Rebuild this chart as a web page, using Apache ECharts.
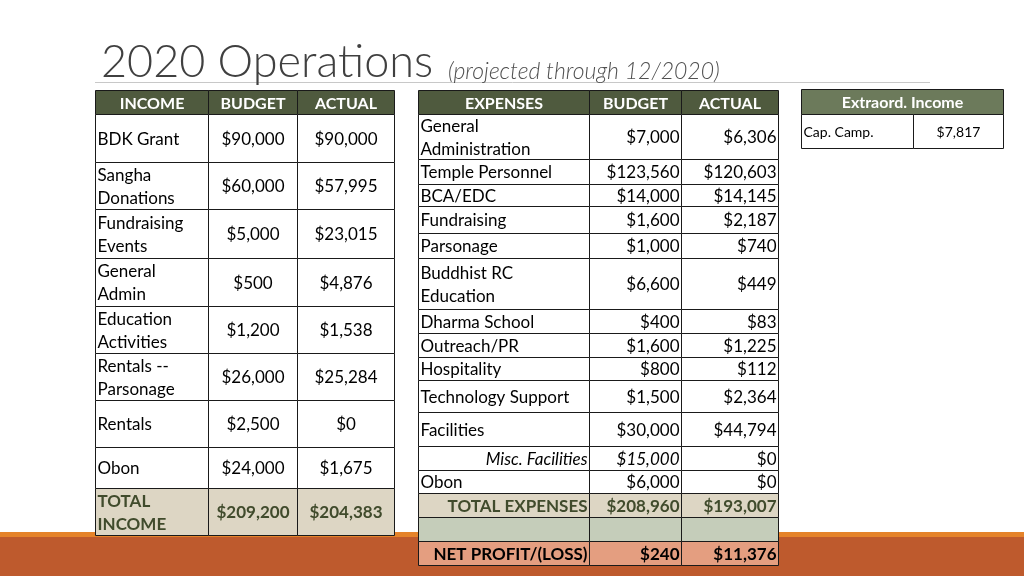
<!DOCTYPE html>
<html>
<head>
<meta charset="utf-8">
<script src="https://cdn.jsdelivr.net/npm/echarts@6/dist/echarts.min.js"></script>
<style>
html,body{margin:0;padding:0;background:#fff;}
#chart{width:1024px;height:576px;}
</style>
</head>
<body>
<div id="chart"></div>
<script>
// ---------- DATA ----------
const titleText = '2020 Operations';
const subtitleText = '(projected through 12/2020)';

const incomeHeaders = ['INCOME', 'BUDGET', 'ACTUAL'];
const incomeCategories = ['BDK Grant', 'Sangha\nDonations', 'Fundraising\nEvents', 'General\nAdmin',
  'Education\nActivities', 'Rentals --\nParsonage', 'Rentals', 'Obon'];
const incomeBudget = [90000, 60000, 5000, 500, 1200, 26000, 2500, 24000];
const incomeActual = [90000, 57995, 23015, 4876, 1538, 25284, 0, 1675];
const incomeTotalLabel = 'TOTAL\nINCOME';
const incomeTotal = [209200, 204383];

const expenseHeaders = ['EXPENSES', 'BUDGET', 'ACTUAL'];
const expenseCategories = ['General\nAdministration', 'Temple Personnel', 'BCA/EDC', 'Fundraising', 'Parsonage',
  'Buddhist RC\nEducation', 'Dharma School', 'Outreach/PR', 'Hospitality', 'Technology Support',
  'Facilities', 'Misc. Facilities', 'Obon'];
const expenseBudget = [7000, 123560, 14000, 1600, 1000, 6600, 400, 1600, 800, 1500, 30000, 15000, 6000];
const expenseActual = [6306, 120603, 14145, 2187, 740, 449, 83, 1225, 112, 2364, 44794, 0, 0];
const expenseTotalLabel = 'TOTAL EXPENSES';
const expenseTotal = [208960, 193007];
const netLabel = 'NET PROFIT/(LOSS)';
const netProfit = [240, 11376];

const extraHeader = 'Extraord. Income';
const extraCategories = ['Cap. Camp.'];
const extraValues = [7817];

// ---------- LAYOUT (positions / styles, not data) ----------
const LAYOUT = {
  income: { cols: [95, 208, 297, 394], rows: [90, 114, 162, 209, 258, 306, 353, 400, 447, 488, 535] },
  expense: { cols: [418, 589, 681, 778], rows: [90, 114, 159, 184, 206, 233, 258, 309, 333, 357, 380, 412, 446, 470, 493, 517, 541, 565] },
  extra: { cols: [801, 913, 1003], rows: [89, 114, 148] }
};
const STYLE = {
  font: 'Lato, "Open Sans", sans-serif',
  header: '#4F5A3E', extraHeader: '#6C7A5B',
  totalFill: '#DDD6C4', spacerFill: '#C5CDBA', netFill: '#E49E80',
  totalText: '#404B2C', border: '#1a1a1a'
};

function money(v) { return '$' + v.toLocaleString('en-US'); }

const cells = [];
function cell(t, c0, c1, r, text, opt) {
  const L = LAYOUT[t];
  cells.push(Object.assign({
    x0: L.cols[c0], x1: L.cols[c1], y0: L.rows[r], y1: L.rows[r + 1],
    text: text, fill: '#fff', color: '#000', bold: false, italic: false, align: 'center', size: 17
  }, opt || {}));
}

// Income table
incomeHeaders.forEach((h, i) => cell('income', i, i + 1, 0, h, { fill: STYLE.header, color: '#fff', bold: true, size: 16 }));
incomeCategories.forEach((c, i) => {
  cell('income', 0, 1, i + 1, c, { align: 'left' });
  cell('income', 1, 2, i + 1, money(incomeBudget[i]));
  cell('income', 2, 3, i + 1, money(incomeActual[i]));
});
{
  const r = incomeCategories.length + 1;
  const o = { fill: STYLE.totalFill, color: STYLE.totalText, bold: true };
  cell('income', 0, 1, r, incomeTotalLabel, Object.assign({ align: 'left' }, o));
  cell('income', 1, 2, r, money(incomeTotal[0]), o);
  cell('income', 2, 3, r, money(incomeTotal[1]), o);
}

// Expense table
expenseHeaders.forEach((h, i) => cell('expense', i, i + 1, 0, h, { fill: STYLE.header, color: '#fff', bold: true, size: 16 }));
expenseCategories.forEach((c, i) => {
  const misc = c.indexOf('Misc.') === 0;
  cell('expense', 0, 1, i + 1, c, { align: misc ? 'right' : 'left', italic: misc });
  cell('expense', 1, 2, i + 1, money(expenseBudget[i]), { align: 'right', italic: misc });
  cell('expense', 2, 3, i + 1, money(expenseActual[i]), { align: 'right' });
});
{
  let r = expenseCategories.length + 1;
  const o = { fill: STYLE.totalFill, color: STYLE.totalText, bold: true, align: 'right' };
  cell('expense', 0, 1, r, expenseTotalLabel, o);
  cell('expense', 1, 2, r, money(expenseTotal[0]), o);
  cell('expense', 2, 3, r, money(expenseTotal[1]), o);
  r++;
  for (let i = 0; i < 3; i++) cell('expense', i, i + 1, r, '', { fill: STYLE.spacerFill });
  r++;
  const n = { fill: STYLE.netFill, color: '#000', bold: true, align: 'right' };
  cell('expense', 0, 1, r, netLabel, n);
  cell('expense', 1, 2, r, money(netProfit[0]), n);
  cell('expense', 2, 3, r, money(netProfit[1]), n);
}

// Extraordinary income
cell('extra', 0, 2, 0, extraHeader, { fill: STYLE.extraHeader, color: '#fff', bold: true, size: 16 });
extraCategories.forEach((c, i) => {
  cell('extra', 0, 1, i + 1, c, { align: 'left', size: 14 });
  cell('extra', 1, 2, i + 1, money(extraValues[i]), { size: 14 });
});

const chart = echarts.init(document.getElementById('chart'), null, { renderer: 'canvas' });
chart.setOption({
  animation: false,
  backgroundColor: '#fff',
  grid: { left: 0, right: 0, top: 0, bottom: 0 },
  xAxis: { type: 'value', min: 0, max: 1024, show: false },
  yAxis: { type: 'value', min: 0, max: 576, inverse: true, show: false },
  graphic: [
    { type: 'rect', z: 0, shape: { x: 0, y: 532, width: 1024, height: 5 }, style: { fill: '#E5832A' } },
    { type: 'rect', z: 0, shape: { x: 0, y: 537, width: 1024, height: 39 }, style: { fill: '#BE5A2D' } },
    { type: 'line', z: 0, shape: { x1: 95, y1: 82.5, x2: 930, y2: 82.5 }, style: { stroke: '#C8C8C8', lineWidth: 1 } },
    { type: 'text', z: 1, x: 101, y: 85, style: { text: titleText, font: '300 45px Lato, sans-serif', fill: '#404040', verticalAlign: 'bottom' } },
    { type: 'text', z: 1, x: 448, y: 83, style: { text: subtitleText, font: 'italic 300 23px Lato, sans-serif', fill: '#505050', verticalAlign: 'bottom' } }
  ],
  series: [{
    type: 'custom',
    coordinateSystem: 'cartesian2d',
    z: 10,
    clip: false,
    data: cells.map(c => [(c.x0 + c.x1) / 2, (c.y0 + c.y1) / 2]),
    renderItem: function (params, api) {
      const c = cells[params.dataIndex];
      const p0 = api.coord([c.x0, c.y0]);
      const p1 = api.coord([c.x1, c.y1]);
      const x0 = Math.round(p0[0]) + 0.5, y0 = Math.round(p0[1]) + 0.5;
      const x1 = Math.round(p1[0]) + 0.5, y1 = Math.round(p1[1]) + 0.5;
      let tx = (x0 + x1) / 2;
      if (c.align === 'left') tx = x0 + 2;
      if (c.align === 'right') tx = x1 - 2;
      const font = (c.italic ? 'italic ' : '') + (c.bold ? 'bold ' : '') + c.size + 'px ' + STYLE.font;
      return {
        type: 'group',
        children: [
          { type: 'rect', shape: { x: x0, y: y0, width: x1 - x0, height: y1 - y0 },
            style: { fill: c.fill, stroke: STYLE.border, lineWidth: 1 } },
          { type: 'text', style: { text: c.text, x: tx, y: (y0 + y1) / 2 + 1, align: c.align, verticalAlign: 'middle',
              font: font, fill: c.color, lineHeight: 23 } }
        ]
      };
    }
  }]
});
</script>
</body>
</html>
